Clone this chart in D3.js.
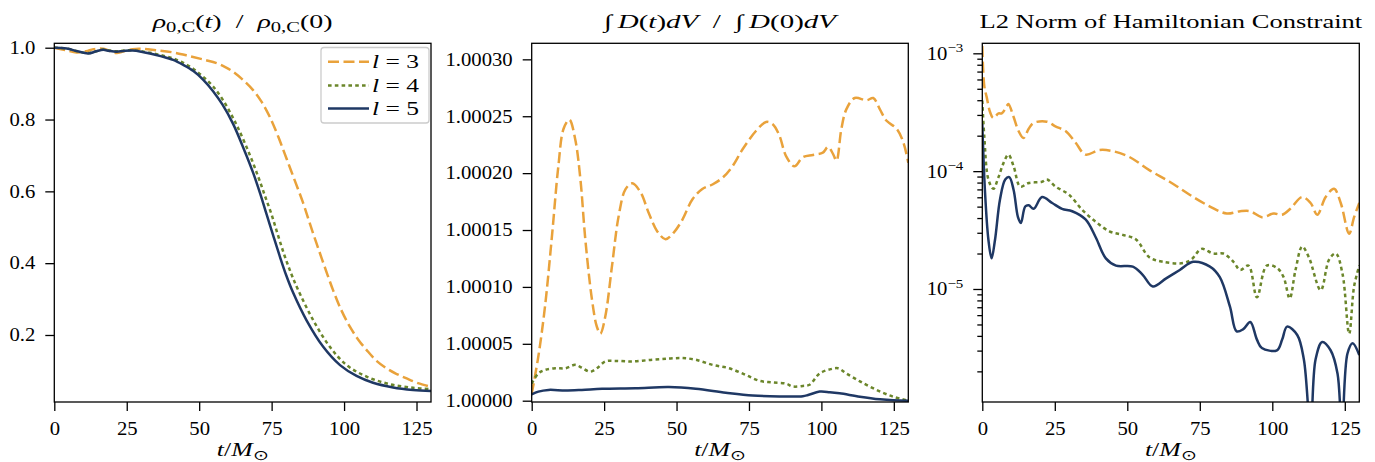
<!DOCTYPE html>
<html><head><meta charset="utf-8">
<script src="https://cdn.jsdelivr.net/npm/d3@7"></script>
<style>
body{margin:0;background:#fff}
svg{display:block}
text{font-family:"Liberation Serif",serif;fill:#000}
</style>
</head><body>
<svg id="chart" width="1375" height="462"></svg>
<script>
// ---------- data ----------
const timeTicks = [0, 25, 50, 75, 100, 125];
const rhoTicks = [0.2, 0.4, 0.6, 0.8, 1.0];
const massTicks = [1.00000, 1.00005, 1.00010, 1.00015, 1.00020, 1.00025, 1.00030];
const hamMajorTicks = [1e-3, 1e-4, 1e-5];
const levels = [3, 4, 5];

// central density rho_{0,C}(t)/rho_{0,C}(0): [t, value]
const rhoL3 = [[0,1.0],[4,0.993],[7.7,0.987],[11,0.99],[13.5,0.996],[16.9,0.997],[19.5,0.99],[21.5,0.985],[24,0.99],[27,0.996],[30,0.997],[35,0.993],[41,0.987],[47,0.976],[52,0.966],[56,0.957],[59,0.946],[61.7,0.933],[65,0.911],[68.6,0.882],[71.5,0.85],[74.4,0.807],[77.3,0.752],[80.2,0.69],[83,0.63],[85.9,0.567],[88,0.515],[90.5,0.455],[93.3,0.39],[96.2,0.325],[99,0.27],[102,0.223],[104.9,0.187],[107.8,0.158],[111.2,0.128],[114.7,0.107],[118,0.092],[121.6,0.079],[125.5,0.066],[130,0.056]];
const rhoL4 = [[0,1.0],[4.3,0.998],[8,0.99],[11.7,0.985],[14.5,0.99],[16.9,0.995],[19,0.992],[21.5,0.99],[24,0.992],[27,0.993],[30,0.99],[33,0.986],[37,0.979],[41,0.97],[44.5,0.958],[48,0.941],[51.5,0.918],[54.8,0.892],[58,0.857],[61,0.815],[63.5,0.775],[67.3,0.705],[70.4,0.64],[72.8,0.585],[75,0.535],[77.3,0.475],[79.5,0.42],[81.8,0.37],[84,0.328],[89.3,0.242],[95.1,0.167],[100.9,0.116],[107.8,0.084],[115.8,0.063],[123.8,0.053],[130,0.049]];
const rhoL5 = [[0,1.0],[4.3,0.998],[8,0.99],[11.7,0.984],[14.5,0.99],[16.9,0.994],[19,0.991],[21.5,0.989],[24,0.991],[27,0.992],[30,0.989],[33,0.984],[37,0.976],[41,0.966],[44.5,0.952],[48,0.935],[51.5,0.91],[54.8,0.879],[58,0.842],[61.7,0.788],[65.5,0.716],[68.6,0.652],[71,0.595],[73.3,0.535],[75.5,0.478],[77.9,0.417],[80,0.367],[82.4,0.318],[87.1,0.24],[92.8,0.167],[98.6,0.116],[104.3,0.086],[110,0.067],[116.9,0.054],[123.8,0.047],[130,0.044]];

// integral of D(t)dV / integral of D(0)dV: [t, value]
const massL3 = [[0,1.0000060],[2.3,1.0000390],[4.6,1.0000830],[6.9,1.0001420],[9.2,1.0002060],[11,1.0002390],[13,1.0002470],[15,1.0002300],[16.8,1.0001950],[18.5,1.0001420],[20.8,1.0000890],[22.5,1.0000650],[23.7,1.0000590],[25.4,1.0000740],[27.7,1.0001180],[30,1.0001620],[32.4,1.0001860],[34.7,1.0001910],[37.6,1.0001830],[40.4,1.0001650],[43.3,1.0001490],[46.2,1.0001420],[49.1,1.0001480],[52,1.0001590],[55.5,1.0001770],[58.9,1.0001860],[62.4,1.0001900],[65.9,1.0001960],[69.3,1.0002060],[72.8,1.0002210],[77.4,1.0002370],[80.9,1.0002450],[83.2,1.0002430],[85.5,1.0002330],[87.8,1.0002150],[90.7,1.0002060],[93.6,1.0002140],[97.1,1.0002160],[100.5,1.0002180],[102.3,1.0002230],[104,1.0002170],[105.2,1.0002110],[106.9,1.0002390],[108.6,1.0002560],[111.5,1.0002660],[115.6,1.0002640],[117.9,1.0002660],[120.2,1.0002560],[122.5,1.0002460],[126,1.0002390],[128.3,1.0002270],[130,1.0002090]];
const massL4 = [[0,1.0000150],[2.3,1.0000240],[4.6,1.0000270],[8.1,1.0000285],[11.6,1.0000285],[15,1.0000315],[17.3,1.0000290],[20.2,1.0000255],[22.5,1.0000285],[25.4,1.0000345],[28.9,1.0000350],[34.7,1.0000345],[41.6,1.0000360],[47.4,1.0000370],[52,1.0000375],[56.6,1.0000360],[62.4,1.0000315],[68.2,1.0000285],[74,1.0000225],[78.6,1.0000175],[83.2,1.0000160],[87.8,1.0000150],[90.1,1.0000125],[93.6,1.0000130],[95.9,1.0000140],[99.4,1.0000240],[102.9,1.0000275],[105.7,1.0000285],[108.6,1.0000240],[113.3,1.0000170],[119,1.0000095],[124.8,1.0000035],[130,1.0000000]];
const massL5 = [[0,1.0000055],[2.3,1.0000080],[5.8,1.0000095],[11.6,1.0000090],[17.3,1.0000095],[24.3,1.0000105],[35.8,1.0000110],[47.4,1.0000120],[56.6,1.0000105],[67,1.0000070],[76.3,1.0000045],[85.5,1.0000038],[93.6,1.0000040],[95.4,1.0000050],[99.4,1.0000080],[102.9,1.0000075],[106.3,1.0000065],[113.3,1.0000035],[120.2,1.0000012],[124.8,1.0000003],[130,1.0000000]];

// L2 norm of the Hamiltonian constraint: [t, value]
const hamL3 = [[0,1.15e-3],[0.7,5.25e-4],[1.5,4.27e-4],[2.7,3.16e-4],[3.8,2.82e-4],[5.6,3.09e-4],[6.7,3.09e-4],[8.4,3.55e-4],[9.0,3.72e-4],[10.8,2.88e-4],[12.5,2.19e-4],[14.2,1.91e-4],[16.0,2.29e-4],[17.7,2.57e-4],[22.3,2.63e-4],[25.2,2.40e-4],[28.7,2.19e-4],[32.2,1.74e-4],[35.6,1.38e-4],[40.3,1.51e-4],[44.9,1.48e-4],[50.7,1.32e-4],[57.6,1.02e-4],[64.6,8.13e-5],[71.5,6.31e-5],[78.5,5.01e-5],[84.3,4.37e-5],[88.9,4.57e-5],[92.4,4.57e-5],[96.4,4.07e-5],[100.5,4.37e-5],[103.4,4.27e-5],[106.2,4.79e-5],[110.3,6.03e-5],[113.2,5.37e-5],[115.5,4.27e-5],[118.4,6.03e-5],[121.3,7.08e-5],[123.6,5.37e-5],[126.5,2.95e-5],[128.2,4.07e-5],[130,5.37e-5]];
const hamL4 = [[0,3.98e-4],[0.7,1.95e-4],[2.1,8.51e-5],[3.8,7.08e-5],[5.6,8.91e-5],[7.3,1.17e-4],[9.0,1.38e-4],[10.8,1.10e-4],[13.1,7.41e-5],[16.0,7.94e-5],[20.6,8.13e-5],[22.3,8.51e-5],[25.2,7.41e-5],[29.9,6.31e-5],[34.5,4.68e-5],[39.1,3.72e-5],[43.8,3.09e-5],[48.4,2.88e-5],[53.0,2.63e-5],[57.6,1.86e-5],[62.3,1.70e-5],[69.2,1.66e-5],[72.1,1.78e-5],[75.6,2.19e-5],[79.6,2.00e-5],[83.1,2.00e-5],[86.6,1.70e-5],[88.9,1.45e-5],[91.8,1.58e-5],[94.7,8.51e-6],[98.1,1.58e-5],[101.6,1.51e-5],[103.9,1.26e-5],[106.0,8.32e-6],[108.0,1.45e-5],[110.3,2.29e-5],[112.6,1.86e-5],[116.7,9.77e-6],[119.6,1.78e-5],[121.9,2.00e-5],[124.2,1.35e-5],[126.5,4.17e-6],[128.2,1.05e-5],[130,1.58e-5]];
const hamL5 = [[0,2.51e-4],[0.9,6.92e-5],[2.1,2.63e-5],[3.2,1.82e-5],[4.4,2.63e-5],[6.1,5.75e-5],[7.9,8.51e-5],[9.3,8.91e-5],[10.8,6.92e-5],[12.3,4.07e-5],[13.3,3.63e-5],[14.8,5.01e-5],[16.0,5.13e-5],[17.7,4.79e-5],[20.6,6.03e-5],[24.1,5.37e-5],[27.5,4.79e-5],[31.0,4.57e-5],[35.6,3.89e-5],[39.1,2.75e-5],[42.6,1.82e-5],[46.1,1.58e-5],[51.9,1.55e-5],[55.3,1.32e-5],[58.8,1.05e-5],[63.4,1.23e-5],[68.1,1.45e-5],[72.7,1.70e-5],[78.5,1.55e-5],[81.9,1.26e-5],[85.4,7.08e-6],[87.7,4.37e-6],[90.0,4.57e-6],[92.4,5.25e-6],[94.7,3.72e-6],[96.4,3.16e-6],[101.6,3.02e-6],[103.4,3.72e-6],[105.1,4.79e-6],[108.6,4.07e-6],[110.9,2.51e-6],[113.2,6.3e-7],[114.9,2.51e-6],[117.2,3.55e-6],[120.1,3.02e-6],[122.5,1.91e-6],[124.0,6.3e-7],[125.9,2.82e-6],[127.7,3.47e-6],[130,2.75e-6]];

// ---------- styles ----------
const colors = ["#E9A23B", "#6B862A", "#1F3864"];
const dashes = ["11,4.5", "3.6,3.2", null];
const LW = 2.5;

// ---------- layout ----------
const svg = d3.select("#chart");
const yTop = 43.3, yBot = 402;
const panels = [
  {x0: 54.3, x1: 431.0},
  {x0: 531.7, x1: 908.3},
  {x0: 982.3, x1: 1359.3}
];

const xScales = panels.map(p => d3.scaleLinear().domain([0, 130]).range([p.x0, p.x1]));
const yRho = d3.scaleLinear().domain([0.0134, 1.0123]).range([yBot, yTop]);
const yMass = d3.scaleLinear().domain([1 - 0.114e-5, 1 + 31.41e-5]).range([yBot, yTop]);
const yHam = d3.scaleLog().domain([Math.pow(10, -5.959), Math.pow(10, -2.915)]).range([yBot, yTop]);

const TICK = 9, PAD = 10, FS = 18, SX = 1.15;

function styleAxis(g) {
  g.select(".domain").remove();
  g.selectAll(".tick line").attr("stroke", "#000").attr("stroke-width", 1.3);
  g.selectAll(".tick text").attr("font-family", "Liberation Serif").attr("font-size", FS).attr("fill", "#000")
    .each(function () {
      const s = d3.select(this);
      const x = +s.attr("x") || 0, y = +s.attr("y") || 0;
      s.attr("x", 0).attr("y", 0).attr("transform", `translate(${x},${y}) scale(${SX},1)`);
    });
}

function fitText(x, y, target, build, fs) {
  const grp = svg.append("g");
  const t = grp.append("text").attr("text-anchor", "middle").attr("font-size", fs || 19);
  build(t);
  const w = t.node().getComputedTextLength();
  grp.attr("transform", `translate(${x},${y}) scale(${target / w},1)`);
  return grp;
}

function addClip(i) {
  const p = panels[i];
  svg.append("clipPath").attr("id", "clip" + i)
    .append("rect").attr("x", p.x0).attr("y", yTop).attr("width", p.x1 - p.x0).attr("height", yBot - yTop);
}

function drawLines(i, yScale, seriesList) {
  const x = xScales[i];
  const line = d3.line().x(d => x(d[0])).y(d => yScale(d[1])).curve(d3.curveCatmullRom.alpha(0.5));
  const g = svg.append("g").attr("clip-path", `url(#clip${i})`);
  seriesList.forEach((s, k) => {
    g.append("path").attr("d", line(s)).attr("fill", "none")
      .attr("stroke", colors[k]).attr("stroke-width", LW)
      .attr("stroke-dasharray", dashes[k]);
  });
}

function drawFrame(i) {
  const p = panels[i];
  svg.append("rect").attr("x", p.x0).attr("y", yTop).attr("width", p.x1 - p.x0).attr("height", yBot - yTop)
    .attr("fill", "none").attr("stroke", "#000").attr("stroke-width", 1.3);
}

function drawXAxis(i) {
  const g = svg.append("g").attr("transform", `translate(0,${yBot})`)
    .call(d3.axisBottom(xScales[i]).tickValues(timeTicks).tickSize(TICK).tickPadding(11).tickFormat(d3.format("d")));
  styleAxis(g);
  const p = panels[i];
  fitText((p.x0 + p.x1) / 2, 455.5, 52, t => {
    t.append("tspan").attr("font-style", "italic").text("t");
    t.append("tspan").text("/");
    t.append("tspan").attr("font-style", "italic").text("M");
    t.append("tspan").attr("font-size", 14).attr("dy", 4).text("⊙");
  });
}

panels.forEach((p, i) => addClip(i));

// ---------- panel 1 ----------
drawLines(0, yRho, [rhoL3, rhoL4, rhoL5]);
{
  const g = svg.append("g").attr("transform", `translate(${panels[0].x0},0)`)
    .call(d3.axisLeft(yRho).tickValues(rhoTicks).tickSize(TICK).tickPadding(PAD).tickFormat(d3.format(".1f")));
  styleAxis(g);
}
drawXAxis(0);
drawFrame(0);
fitText((panels[0].x0 + panels[0].x1) / 2, 28, 180, t => {
  const part = (arg) => {
    t.append("tspan").attr("font-style", "italic").text("ρ");
    t.append("tspan").attr("font-size", 14).attr("dy", 4).text("0,C");
    t.append("tspan").attr("dy", -4).text("(");
    if (arg === "t") t.append("tspan").attr("font-style", "italic").text("t");
    else t.append("tspan").text(arg);
    t.append("tspan").text(")");
  };
  part("t");
  t.append("tspan").text("\u2002/\u2002");
  part("0");
});

// legend
{
  const lg = svg.append("g");
  lg.append("rect").attr("x", 321).attr("y", 47.5).attr("width", 108).attr("height", 75.5).attr("rx", 3)
    .attr("fill", "#fff").attr("fill-opacity", 0.8).attr("stroke", "#cccccc").attr("stroke-width", 1.3);
  const rowY = [61.7, 85.5, 108.5];
  levels.forEach((lv, k) => {
    lg.append("line").attr("x1", 328).attr("x2", 369).attr("y1", rowY[k]).attr("y2", rowY[k])
      .attr("stroke", colors[k]).attr("stroke-width", LW).attr("stroke-dasharray", dashes[k]);
    fitText(395.5, rowY[k] + 6.5, 47, t => {
      t.append("tspan").attr("font-style", "italic").text("l");
      t.append("tspan").text(" = " + lv);
    });
  });
}

// ---------- panel 2 ----------
drawLines(1, yMass, [massL3, massL4, massL5]);
{
  const g = svg.append("g").attr("transform", `translate(${panels[1].x0},0)`)
    .call(d3.axisLeft(yMass).tickValues(massTicks).tickSize(TICK).tickPadding(PAD).tickFormat(d3.format(".5f")));
  styleAxis(g);
}
drawXAxis(1);
drawFrame(1);
fitText((panels[1].x0 + panels[1].x1) / 2, 28, 232, t => {
  const part = (arg) => {
    t.append("tspan").attr("font-style", "italic").text("∫\u2009");
    t.append("tspan").attr("font-style", "italic").text("D");
    t.append("tspan").text("(");
    if (arg === "t") t.append("tspan").attr("font-style", "italic").text("t");
    else t.append("tspan").text(arg);
    t.append("tspan").text(")");
    t.append("tspan").attr("font-style", "italic").text("dV");
  };
  part("t");
  t.append("tspan").text("\u2002/\u2002");
  part("0");
});

// ---------- panel 3 ----------
drawLines(2, yHam, [hamL3, hamL4, hamL5]);
{
  const [lo, hi] = yHam.domain();
  const minor = [];
  for (let e = -7; e <= -3; e++) for (let m = 2; m <= 9; m++) {
    const v = m * Math.pow(10, e);
    if (v >= lo && v <= hi) minor.push(v);
  }
  const gm = svg.append("g").attr("transform", `translate(${panels[2].x0},0)`)
    .call(d3.axisLeft(yHam).tickValues(minor).tickSize(5).tickFormat(""));
  styleAxis(gm);
  const g = svg.append("g").attr("transform", `translate(${panels[2].x0},0)`)
    .call(d3.axisLeft(yHam).tickValues(hamMajorTicks).tickSize(TICK).tickFormat(""));
  styleAxis(g);
  hamMajorTicks.forEach(v => {
    const e = Math.round(Math.log10(v));
    const grp = svg.append("g")
      .attr("transform", `translate(${panels[2].x0 - TICK - PAD},${yHam(v) + 6.5}) scale(${SX},1)`);
    const t = grp.append("text").attr("text-anchor", "end").attr("font-size", FS);
    t.append("tspan").text("10");
    t.append("tspan").attr("font-size", 13).attr("dy", -8).text("\u2212" + Math.abs(e));
  });
}
drawXAxis(2);
drawFrame(2);
fitText((panels[2].x0 + panels[2].x1) / 2, 27.5, 383, t => {
  t.text("L2 Norm of Hamiltonian Constraint");
});
</script>
</body></html>
